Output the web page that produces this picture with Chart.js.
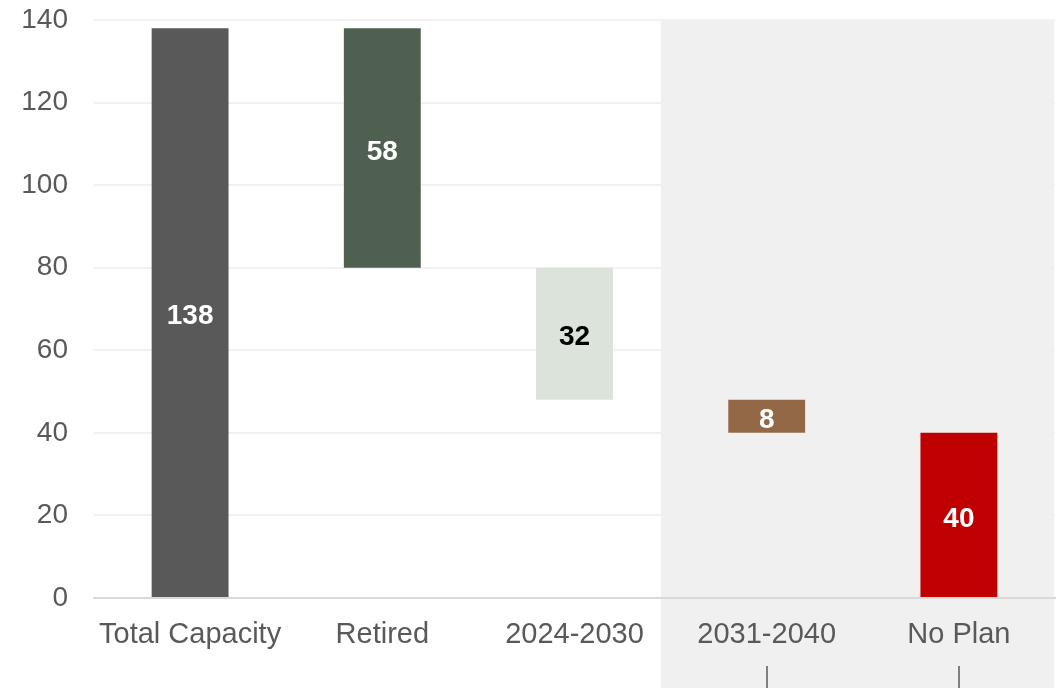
<!DOCTYPE html>
<html>
<head>
<meta charset="utf-8">
<script src="https://cdn.jsdelivr.net/npm/chart.js@4"></script>
<style>
  html, body { margin: 0; padding: 0; background: #fff; }
  #wrap { width: 1061px; height: 688px; position: relative; }
</style>
</head>
<body>
<div id="wrap"><canvas id="chart"></canvas></div>
<script>
// capacity waterfall
const categories = ["Total Capacity", "Retired", "2024-2030", "2031-2040", "No Plan"];
const values = [138, 58, 32, 8, 40];
const bases = [0, 80, 48, 40, 0];
const yTicks = [0, 20, 40, 60, 80, 100, 120, 140];

const barColors = ["#595959", "#506050", "#dce3da", "#936846", "#c00000"];
const labelColors = ["#ffffff", "#ffffff", "#000000", "#ffffff", "#ffffff"];
const FONT = "'Liberation Sans', Arial, sans-serif";

// grey panel behind the later phases
const planShade = {
  id: "planShade",
  beforeDatasetsDraw(chart) {
    const { ctx, chartArea, scales: { x } } = chart;
    const left = x.getPixelForValue(2.45);
    ctx.save();
    ctx.fillStyle = "#f0f0f0";
    ctx.fillRect(left, chartArea.top + 1, chartArea.right - 1 - left, chart.height - chartArea.top - 1);
    ctx.restore();
  },
  afterDatasetsDraw(chart) {
    const { ctx } = chart;
    const meta = chart.getDatasetMeta(0);
    ctx.save();
    ctx.font = "bold 28px " + FONT;
    ctx.textAlign = "center";
    ctx.textBaseline = "middle";
    meta.data.forEach((bar, i) => {
      ctx.fillStyle = labelColors[i];
      ctx.fillText(String(values[i]), bar.x, (bar.y + bar.base) / 2 + 4);
    });
    ctx.restore();
  },
  afterDraw(chart) {
    const { ctx, scales: { x } } = chart;
    ctx.save();
    ctx.strokeStyle = "#7f7f7f";
    ctx.lineWidth = 2;
    [3, 4].forEach(i => {
      const px = Math.round(x.getPixelForValue(i));
      ctx.beginPath();
      ctx.moveTo(px, 666);
      ctx.lineTo(px, chart.height);
      ctx.stroke();
    });
    ctx.restore();
  }
};

new Chart(document.getElementById("chart"), {
  type: "bar",
  data: {
    labels: categories,
    datasets: [{
      data: values.map((v, i) => [bases[i], bases[i] + v]),
      backgroundColor: barColors,
      borderWidth: 0,
      barPercentage: 0.4,
      categoryPercentage: 1.0
    }]
  },
  options: {
    responsive: true,
    maintainAspectRatio: false,
    animation: false,
    layout: { padding: { top: 0, right: 6, left: 0, bottom: 0 } },
    plugins: {
      legend: { display: false },
      tooltip: { enabled: false }
    },
    scales: {
      x: {
        grid: { color: "transparent", drawTicks: false },
        border: { color: "#d9d9d9", width: 2, z: 1 },
        ticks: { color: "#595959", font: { family: FONT, size: 29 }, padding: 20, z: 1 },
        afterFit: s => { s.height = 90; }
      },
      y: {
        min: 0,
        max: 140,
        afterBuildTicks: s => { s.ticks = yTicks.map(v => ({ value: v })); },
        grid: { color: "#f1f1f1", lineWidth: 2, drawTicks: false },
        border: { display: false },
        ticks: { color: "#595959", font: { family: FONT, size: 28 }, padding: 26 },
        afterFit: s => { s.width = 94; s.paddingTop = 20; s.paddingBottom = 0; }
      }
    }
  },
  plugins: [planShade]
});
</script>
</body>
</html>
